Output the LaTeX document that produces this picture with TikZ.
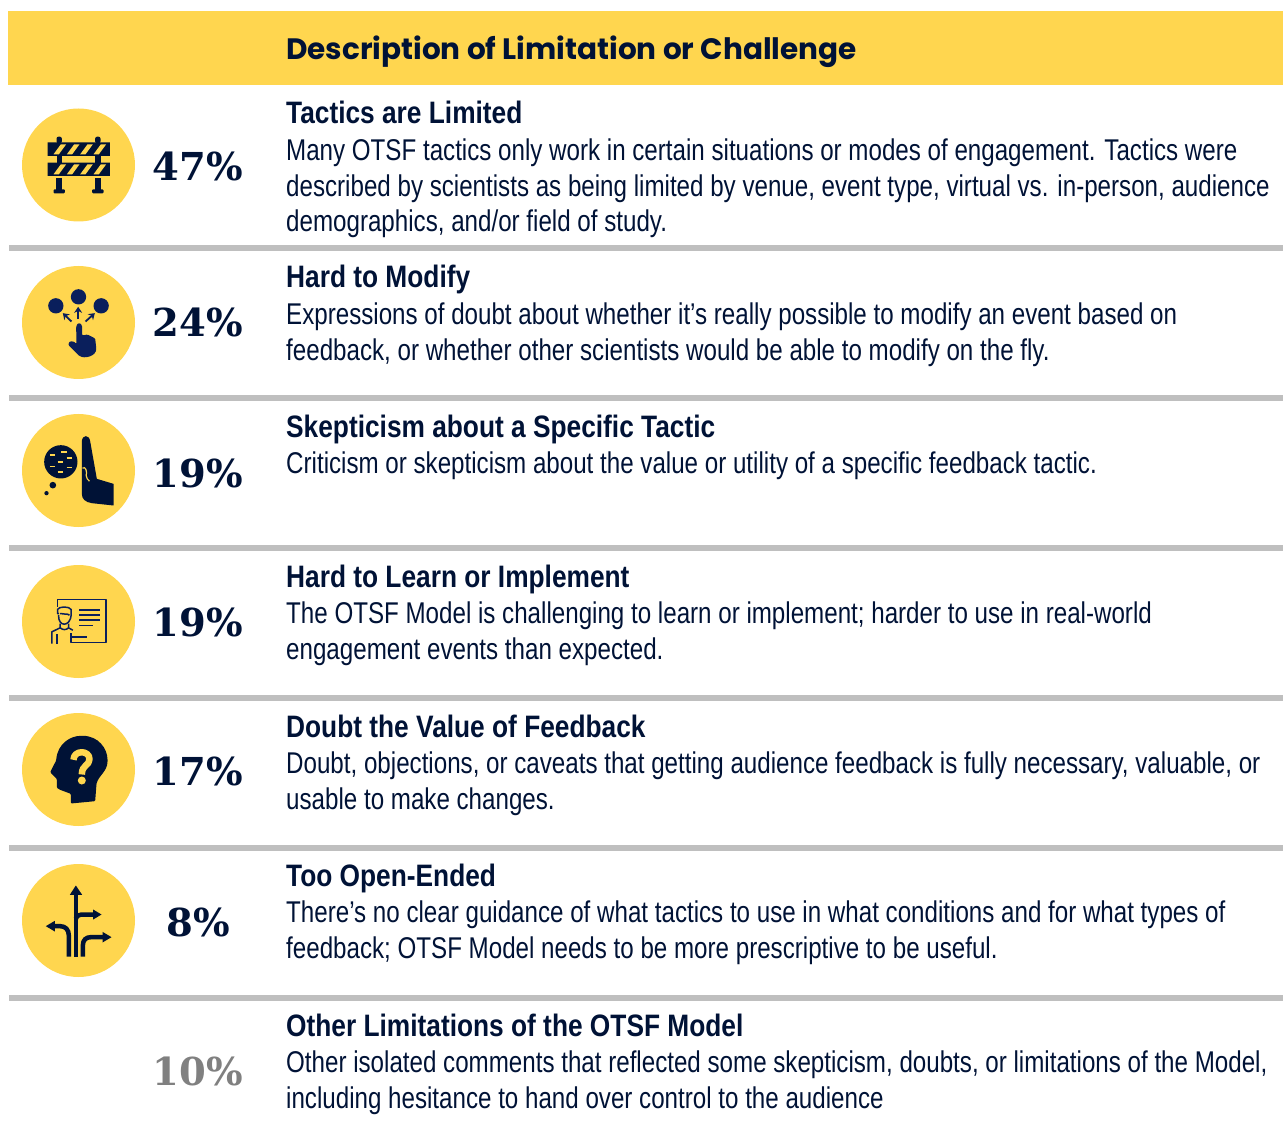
\documentclass[tikz,border=0pt]{standalone}
\usepackage{fontspec}
\usetikzlibrary{arrows.meta}
\setmainfont{Liberation Sans}
\newfontfamily\bodyfont[FakeStretch=0.805]{Liberation Sans}
\newfontfamily\titlefont[FakeStretch=0.848]{Liberation Sans}
\newfontfamily\headfont{Poppins}
\newfontfamily\pctfont{DejaVu Serif}
\definecolor{navy}{HTML}{001236}
\definecolor{deepblue}{HTML}{0A1F5C}
\definecolor{sun}{HTML}{FFD64F}
\definecolor{rulegray}{HTML}{BFBFBF}
\tikzset{
	iconcircle/.style={circle, fill=sun, minimum size=113pt, inner sep=0pt},
	pctlabel/.style={font=\pctfont\bfseries\fontsize{38.5}{42}\selectfont, text=navy, inner sep=0pt, anchor=center},
	rowtitle/.style={font=\titlefont\bfseries\fontsize{31}{35}\selectfont, text=navy, inner sep=0pt, anchor=base west},
	rowbody/.style={font=\bodyfont\fontsize{30}{35.2}\selectfont, text=navy, inner sep=0pt, anchor=north west, align=left},
}
\begin{document}
\begin{tikzpicture}[x=1pt, y=-1pt, line join=round, >=stealth]
	\useasboundingbox (0,0) rectangle (1283,1139);
	\fill[sun] (8,11) rectangle (1283,85);
	\node[font=\headfont\bfseries\fontsize{29.5}{35}\selectfont, text=navy, inner sep=0pt, anchor=base west] (head) at (286,59.5) {Description of Limitation or Challenge};
	\foreach \y in {248,398,548,698,848,998} \fill[rulegray] (9,\y-3) rectangle (1283,\y+3);
	% circles
	\foreach \n/\y in {1/165,2/322.5,3/470.5,4/621.5,5/769.5,6/920.5} \node[iconcircle] (icon\n) at (78.5,\y) {};
	% percentages
	\node[pctlabel] (pct1) at (198,166) {47\%};
	\node[pctlabel] (pct2) at (198,322) {24\%};
	\node[pctlabel] (pct3) at (198,473) {19\%};
	\node[pctlabel] (pct4) at (198,622) {19\%};
	\node[pctlabel] (pct5) at (198,771) {17\%};
	\node[pctlabel] (pct6) at (198,922) {8\%};
	\node[pctlabel, text=gray] (pct7) at (198,1071) {10\%};
	% texts
	\node[rowtitle] (title1) at (286,124) {Tactics are Limited};
	\node[rowbody] (body1) at (286,139) {Many OTSF tactics only work in certain situations or modes of engagement. Tactics were\\described by scientists as being limited by venue, event type, virtual vs. in-person, audience\\demographics, and/or field of study.};
	\node[rowtitle] (title2) at (286,288) {Hard to Modify};
	\node[rowbody] (body2) at (286,303) {Expressions of doubt about whether it’s really possible to modify an event based on\\feedback, or whether other scientists would be able to modify on the fly.};
	\node[rowtitle] (title3) at (286,438) {Skepticism about a Specific Tactic};
	\node[rowbody] (body3) at (286,452) {Criticism or skepticism about the value or utility of a specific feedback tactic.};
	\node[rowtitle] (title4) at (286,587) {Hard to Learn or Implement};
	\node[rowbody] (body4) at (286,602) {The OTSF Model is challenging to learn or implement; harder to use in real-world\\engagement events than expected.};
	\node[rowtitle] (title5) at (286,737) {Doubt the Value of Feedback};
	\node[rowbody] (body5) at (286,752) {Doubt, objections, or caveats that getting audience feedback is fully necessary, valuable, or\\usable to make changes.};
	\node[rowtitle] (title6) at (286,886) {Too Open-Ended};
	\node[rowbody] (body6) at (286,901) {There’s no clear guidance of what tactics to use in what conditions and for what types of\\feedback; OTSF Model needs to be more prescriptive to be useful.};
	\node[rowtitle] (title7) at (286,1036) {Other Limitations of the OTSF Model};
	\node[rowbody] (body7) at (286,1051) {Other isolated comments that reflected some skepticism, doubts, or limitations of the Model,\\including hesitance to hand over control to the audience};
	% barrier
	\begin{scope}[shift={(icon1.center)}, x=0.33333pt, y=-0.33333pt, shift={(-235,-225)}]
		\fill[navy] (142,157) rectangle (329,198) (142,218) rectangle (329,258);
		\foreach \x in {177,293} {
			\fill[navy, rounded corners=2pt] (\x-8,160) -- (\x-8,140) -- (\x+8,140) -- (\x+8,160) -- cycle;
			\fill[navy] (\x-8,198) rectangle (\x+8,218);
			\fill[navy] (\x-9,264) rectangle (\x+9,300);
			\fill[navy, rounded corners=1pt] (\x-17,298) rectangle (\x+17,310);
		}
		\foreach \x in {160,200,240,280} {
			\fill[sun] (\x,193) -- (\x+16,193) -- (\x+38,163) -- (\x+22,163) -- cycle;
			\fill[sun] (\x,253) -- (\x+16,253) -- (\x+38,223) -- (\x+22,223) -- cycle;
		}
	\end{scope}
	% hand and dots
	\begin{scope}[shift={(icon2.center)}, x=0.33333pt, y=-0.33333pt, shift={(-235,-697)}]
		\fill[deepblue] (167,647) circle (23) (235,620) circle (23) (303,647) circle (23);
		\draw[deepblue, line width=1.8pt, -{Stealth[length=6pt,width=8pt]}] (234,687) -- (234,650);
		\draw[deepblue, line width=1.8pt, -{Stealth[length=6pt,width=8pt]}] (214,694) -- (188,669);
		\draw[deepblue, line width=1.8pt, -{Stealth[length=6pt,width=8pt]}] (256,694) -- (284,669);
		\fill[deepblue, rounded corners=1pt] (228,712) .. controls (230,696) and (244,696) .. (246,712) -- (246,736) -- (262,733) -- (285,745) -- (288,772) .. controls (290,798) and (252,808) .. (235,795) -- (205,765) .. controls (205,750) and (222,752) .. (229,762) -- cycle;
	\end{scope}
	% thought and raised hand
	\begin{scope}[shift={(icon3.center)}, x=0.33333pt, y=-0.33333pt, shift={(-235,-210)}]
		\fill[navy] (182,184) circle (50) (158,254) circle (10) (139,278) circle (6.5);
		\foreach \x/\y in {157/164,191/155,180/184,207/172,157/198,207/201,180/214}
			\draw[sun, line width=1.7pt] (\x-8,\y) -- (\x+8,\y);
		\fill[navy] (245,122) .. controls (247,102) and (267,102) .. (270,122) -- (290,235) -- (340,250) -- (340,315) -- (275,308) .. controls (255,305) and (245,295) .. (245,280) -- cycle;
		\draw[sun, line width=1.2pt] (247,203) .. controls (256,195) and (262,215) .. (258,225) .. controls (258,232) and (264,240) .. (268,242);
	\end{scope}
	% presenter with board
	\begin{scope}[shift={(icon4.center)}, x=0.33333pt, y=-0.33333pt, shift={(-235,-664)}, deepblue, line width=1.5pt]
		\draw (172,620) -- (172,598) -- (317,598) -- (317,727) -- (213,727) -- (213,698);
		\draw (213,710) -- (260,710);
		\foreach \y in {630,645,660} \draw (237,\y) -- (298,\y);
		\draw (237,676) -- (278,676);
		\draw (177,640) -- (172,640) -- (172,628) .. controls (176,618) and (208,618) .. (213,628) -- (213,640) .. controls (213,665) and (200,672) .. (192,672) .. controls (184,672) and (175,665) .. (175,645);
		\draw (180,640) .. controls (190,645) and (200,638) .. (208,645);
		\draw (180,670) -- (180,683) -- (155,695) -- (155,730);
		\draw (205,670) -- (205,683) -- (218,690);
		\draw (171,730) -- (171,700);
		\draw (180,683) .. controls (188,690) and (198,690) .. (205,683);
	\end{scope}
	% head with question mark
	\begin{scope}[shift={(icon5.center)}, x=0.33333pt, y=-0.33333pt, shift={(-235,-207)}]
		\fill[navy, rounded corners=1pt] (212,309) -- (212,280) -- (180,268) -- (170,262) -- (170,235) -- (150,215) -- (168,180) .. controls (172,130) and (210,106) .. (245,106) .. controls (295,106) and (322,145) .. (322,180) .. controls (322,212) and (296,225) .. (289,250) -- (285,302) -- cycle;
		\draw[sun, line width=6.5pt] (220,178) .. controls (220,148) and (268,148) .. (268,176) .. controls (268,196) and (245,192) .. (245,222);
		\fill[sun] (245,240) circle (12);
	\end{scope}
	% road arrows
	\begin{scope}[shift={(icon6.center)}, x=0.33333pt, y=-0.33333pt, shift={(-235,-660)}, navy, line width=4.5pt]
		\draw (227,768) -- (227,578);
		\fill (227,555) -- (246,583) -- (209,583) -- cycle;
		\draw (227,655) .. controls (230,645) and (238,642) .. (250,642) -- (282,642);
		\fill (304,642) -- (279,627) -- (279,657) -- cycle;
		\draw (206,768) -- (206,705) .. controls (206,688) and (196,677) .. (180,677) -- (162,677);
		\fill (137,677) -- (164,661) -- (164,693) -- cycle;
		\draw (248,768) -- (248,735) .. controls (248,718) and (258,710) .. (272,710) -- (310,710);
		\fill (334,710) -- (307,694) -- (307,726) -- cycle;
	\end{scope}
\end{tikzpicture}
\end{document}
